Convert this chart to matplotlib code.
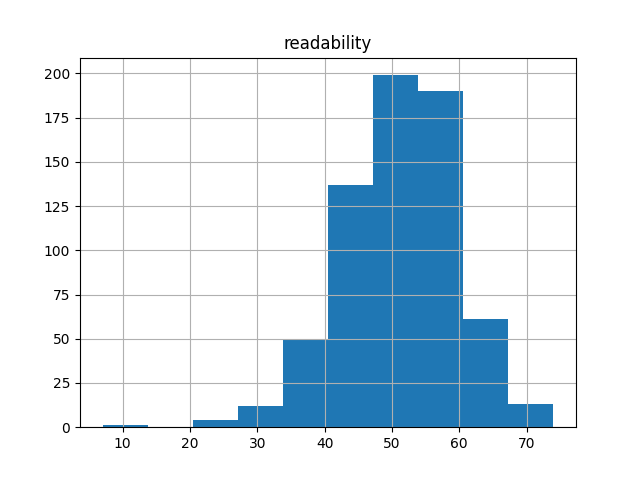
import numpy as np
import matplotlib
matplotlib.use("Agg")
import matplotlib.pyplot as plt

# bin edges and counts (10 bins)
bin_edges = [7.0, 13.7, 20.4, 27.1, 33.8, 40.5, 47.2, 53.9, 60.6, 67.3, 74.0]
counts = [1, 0, 4, 12, 50, 137, 199, 190, 61, 13]

fig, ax = plt.subplots(figsize=(6.4, 4.8), dpi=100)

# weights trick: one sample per bin centre, weighted by its count
centres = (np.array(bin_edges[:-1]) + np.array(bin_edges[1:])) / 2
ax.hist(centres, bins=bin_edges, weights=counts, color="#1f77b4")

ax.grid(True)
ax.set_title("readability")

fig.savefig("out.png", dpi=100)
